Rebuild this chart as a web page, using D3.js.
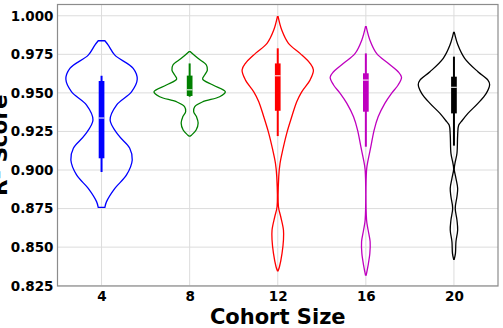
<!DOCTYPE html>
<html>
<head>
<meta charset="utf-8">
<script src="https://cdn.jsdelivr.net/npm/d3@7"></script>
<style>
  body { margin: 0; background: #fff; }
  svg { display: block; font-family: "DejaVu Sans", sans-serif; }
</style>
</head>
<body>
<svg class="chart"></svg>
<script>
// cohort sizes on the x axis
var categories = ["4", "8", "12", "16", "20"];
var colors = ["#0000ff", "#008000", "#ff0000", "#bf00bf", "#000000"];
var yTicks = [0.825, 0.850, 0.875, 0.900, 0.925, 0.950, 0.975, 1.000];

// box / whisker summary per cohort
var whiskerLow  = [0.8987, 0.9475, 0.9220, 0.9151, 0.9158];
var q1          = [0.9076, 0.9480, 0.9384, 0.9378, 0.9367];
var median      = [0.9337, 0.9520, 0.9611, 0.9583, 0.9536];
var q3          = [0.9577, 0.9612, 0.9691, 0.9627, 0.9605];
var whiskerHigh = [0.9611, 0.9691, 0.9789, 0.9756, 0.9735];

// violin outline: score levels and relative half-width (1 = widest)
var violinLevels = [
  [0.9838, 0.9810, 0.9745, 0.9659, 0.9588, 0.9507, 0.9421, 0.9324, 0.9227, 0.9141, 0.9065, 0.8968, 0.8881, 0.8795, 0.8758],
  [0.9767, 0.9724, 0.9681, 0.9648, 0.9616, 0.9590, 0.9551, 0.9507, 0.9475, 0.9443, 0.9410, 0.9378, 0.9343, 0.9305, 0.9259, 0.9227, 0.9220],
  [0.9994, 0.9907, 0.9821, 0.9756, 0.9692, 0.9648, 0.9583, 0.9507, 0.9443, 0.9345, 0.9238, 0.9130, 0.9043, 0.8957, 0.8762, 0.8697, 0.8611, 0.8546, 0.8460, 0.8373, 0.8347],
  [0.9929, 0.9843, 0.9756, 0.9692, 0.9637, 0.9601, 0.9551, 0.9497, 0.9432, 0.9345, 0.9259, 0.9151, 0.9065, 0.9000, 0.8676, 0.8611, 0.8535, 0.8460, 0.8384, 0.8319],
  [0.9892, 0.9810, 0.9724, 0.9637, 0.9583, 0.9555, 0.9497, 0.9432, 0.9367, 0.9313, 0.9290, 0.9228, 0.9108, 0.9043, 0.9005, 0.8946, 0.8881, 0.8827, 0.8752, 0.8676, 0.8611, 0.8535, 0.8460, 0.8421]
];
var violinWidths = [
  [0.093, 0.187, 0.373, 0.887, 1.000, 0.840, 0.420, 0.240, 0.467, 0.790, 0.860, 0.700, 0.373, 0.140, 0.093],
  [0.020, 0.233, 0.468, 0.496, 0.420, 0.364, 0.653, 1.000, 0.840, 0.373, 0.140, 0.112, 0.196, 0.238, 0.182, 0.056, 0.020],
  [0.010, 0.112, 0.300, 0.625, 0.905, 1.000, 0.905, 0.672, 0.532, 0.392, 0.252, 0.140, 0.064, 0.028, 0.020, 0.084, 0.160, 0.160, 0.120, 0.048, 0.010],
  [0.010, 0.112, 0.300, 0.625, 0.905, 1.000, 0.905, 0.720, 0.532, 0.345, 0.232, 0.140, 0.064, 0.020, 0.020, 0.064, 0.120, 0.112, 0.064, 0.010],
  [0.010, 0.112, 0.300, 0.672, 0.952, 1.000, 0.905, 0.672, 0.392, 0.204, 0.132, 0.104, 0.084, 0.028, 0.008, 0.056, 0.104, 0.084, 0.036, 0.084, 0.104, 0.056, 0.042, 0.008]
];

var W = 503, H = 328;
var margin = { top: 4.5, right: 5, bottom: 42, left: 57.5 };

var svg = d3.select(".chart").attr("width", W).attr("height", H);

var x = d3.scaleLinear().domain([0.5, categories.length + 0.5])
    .range([margin.left, W - margin.right]);
var y = d3.scaleLinear().domain([0.8248, 1.0073])
    .range([H - margin.bottom, margin.top]);

var halfWidth = 0.405; // in category units

// grid
svg.append("g").selectAll("line").data(yTicks).enter().append("line")
    .attr("x1", x.range()[0]).attr("x2", x.range()[1])
    .attr("y1", function(d) { return y(d); }).attr("y2", function(d) { return y(d); })
    .attr("stroke", "#dcdcdc").attr("stroke-width", 1);
svg.append("g").selectAll("line").data(categories).enter().append("line")
    .attr("x1", function(d, i) { return x(i + 1); }).attr("x2", function(d, i) { return x(i + 1); })
    .attr("y1", y.range()[0]).attr("y2", y.range()[1])
    .attr("stroke", "#dcdcdc").attr("stroke-width", 1);

// axes (labels only, no tick marks)
var yAxis = svg.append("g")
    .attr("transform", "translate(" + margin.left + ",0)")
    .call(d3.axisLeft(y).tickValues(yTicks).tickFormat(d3.format(".3f")).tickSize(0).tickPadding(4));
var xAxis = svg.append("g")
    .attr("transform", "translate(0," + (H - margin.bottom) + ")")
    .call(d3.axisBottom(x).tickValues(d3.range(1, categories.length + 1))
        .tickFormat(function(d) { return categories[d - 1]; }).tickSize(0).tickPadding(5));
[xAxis, yAxis].forEach(function(a) {
    a.select(".domain").remove();
    a.selectAll("text").attr("font-size", "13.5px").attr("font-weight", "bold")
        .attr("fill", "#000").attr("font-family", "DejaVu Sans");
});

// violins
var area = d3.area()
    .curve(d3.curveCatmullRom.alpha(0.5))
    .y(function(d) { return y(d.v); })
    .x0(function(d) { return x(d.c - d.w * halfWidth); })
    .x1(function(d) { return x(d.c + d.w * halfWidth); });

categories.forEach(function(cat, i) {
    var pts = violinLevels[i].map(function(v, j) {
        return { v: v, w: violinWidths[i][j], c: i + 1 };
    });
    svg.append("path")
        .datum(pts)
        .attr("d", area)
        .attr("fill", "none")
        .attr("stroke", colors[i])
        .attr("stroke-width", 1.3);

    var cx = x(i + 1);
    svg.append("line")
        .attr("x1", cx).attr("x2", cx)
        .attr("y1", y(whiskerLow[i])).attr("y2", y(whiskerHigh[i]))
        .attr("stroke", colors[i]).attr("stroke-width", 2);
    svg.append("rect")
        .attr("x", cx - 2.85).attr("width", 5.7)
        .attr("y", y(q3[i])).attr("height", y(q1[i]) - y(q3[i]))
        .attr("fill", colors[i]);
    svg.append("line")
        .attr("x1", cx - 2.85).attr("x2", cx + 2.85)
        .attr("y1", y(median[i])).attr("y2", y(median[i]))
        .attr("stroke", "#fff").attr("stroke-opacity", 0.85).attr("stroke-width", 1.2);
});

// frame
svg.append("rect")
    .attr("x", x.range()[0]).attr("y", y.range()[1])
    .attr("width", x.range()[1] - x.range()[0])
    .attr("height", y.range()[0] - y.range()[1])
    .attr("fill", "none").attr("stroke", "#8c8c8c").attr("stroke-width", 1.2);

// axis titles (the y title is partly clipped by the left edge, as in the original)
svg.append("text")
    .attr("x", (x.range()[0] + x.range()[1]) / 2).attr("y", 323.5)
    .attr("text-anchor", "middle")
    .attr("font-size", "21px").attr("font-weight", "bold")
    .text("Cohort Size");
svg.append("text")
    .attr("transform", "translate(7," + ((y.range()[0] + y.range()[1]) / 2) + ") rotate(-90)")
    .attr("text-anchor", "middle")
    .attr("font-size", "21.5px").attr("font-weight", "bold")
    .text("R² Score");
</script>
</body>
</html>
